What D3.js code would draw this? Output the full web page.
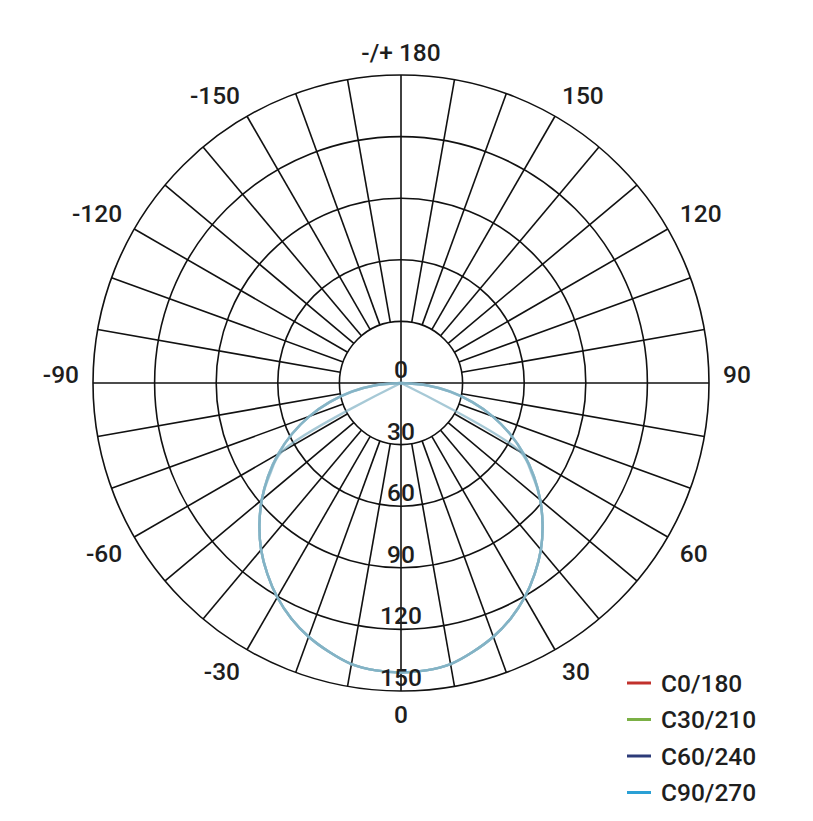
<!DOCTYPE html>
<html>
<head>
<meta charset="utf-8">
<script src="https://cdn.jsdelivr.net/npm/d3@7"></script>
<style>
  html, body { margin: 0; padding: 0; background: #fff; }
  #container svg { display: block; }
</style>
</head>
<body>
<div id="container"></div>
<script>
// gamma angles (degrees from nadir) at which the intensity was read
const gammaAngles = [0, 5, 10, 15, 20, 25, 30, 35, 40, 45, 50, 55, 60, 65, 70, 75, 80, 85, 90];

// intensity per C-plane (same on both halves of a plane)
const c0_180 = [141, 140.5, 139, 135.5, 131.5, 126.5, 120.5, 113.5, 106, 97.5, 88.5, 78, 67, 0, 0, 0, 0, 0, 0];
const c30_210 = [141, 140.5, 139, 135.5, 131.5, 126.5, 120.5, 113.5, 106, 97.5, 88.5, 79, 69, 58.5, 47.5, 36, 24.5, 12.5, 0];
const c60_240 = [141, 140.5, 139, 135.5, 131.5, 126.5, 120.5, 113.5, 106, 97.5, 88.5, 79, 69, 58.5, 47.5, 36, 24.5, 12.5, 0];
const c90_270 = [141, 140.5, 139, 135.5, 131.5, 126.5, 120.5, 113.5, 106, 97.5, 88.5, 79, 69, 58.5, 47.5, 36, 24, 12, 0];

const seriesNames = ["C0/180", "C30/210", "C60/240", "C90/270"];
const seriesValues = [c0_180, c30_210, c60_240, c90_270];
const seriesColors = ["#c1312c", "#7bb045", "#2c3b78", "#2aa0d5"];

// radial ticks (intensity) and angular ticks (degrees)
const ringTicks = [0, 30, 60, 90, 120, 150];
const angleTicks = [0, 30, 60, 90, 120, 150, 180, -150, -120, -90, -60, -30];
const angleTickLabels = ["0", "30", "60", "90", "120", "150", "-/+ 180", "-150", "-120", "-90", "-60", "-30"];

const width = 813;
const height = 821;
const cx = 401;
const cy = 383;
const outerRadius = 308;
const fontFamily = "Roboto, 'Noto Sans', sans-serif";
const fontSize = 24.5;
const fontWeight = 500;
const textColor = "#1e1e1e";

const svg = d3
  .select("#container")
  .append("svg")
  .attr("width", width)
  .attr("height", height)
  .attr("viewBox", [0, 0, width, height]);

const g = svg.append("g").attr("transform", `translate(${cx},${cy})`);

// intensity -> radius
const r = d3.scaleLinear().domain([0, 150]).range([0, outerRadius]);

// gamma (0 = down, positive to the right) -> screen offsets
const rad = (deg) => (deg * Math.PI) / 180;
const px = (deg, v) => r(v) * Math.sin(rad(deg));
const py = (deg, v) => r(v) * Math.cos(rad(deg));

/* grid */
const grid = g.append("g").attr("fill", "none").attr("stroke", "#111").attr("stroke-width", 1.6);

// concentric rings
grid
  .selectAll("circle")
  .data(ringTicks.filter((d) => d > 0))
  .join("circle")
  .attr("r", (d) => r(d));

// spokes every 10 degrees, starting from the first ring
grid
  .selectAll("line.spoke")
  .data(d3.range(10, 360, 10).filter((a) => a % 90 !== 0))
  .join("line")
  .attr("class", "spoke")
  .attr("x1", (a) => px(a, 30))
  .attr("y1", (a) => py(a, 30))
  .attr("x2", (a) => px(a, 150))
  .attr("y2", (a) => py(a, 150));

// the two axes run through the centre
grid
  .selectAll("line.axis")
  .data([0, 90])
  .join("line")
  .attr("class", "axis")
  .attr("x1", (a) => px(a, 150))
  .attr("y1", (a) => py(a, 150))
  .attr("x2", (a) => px(a + 180, 150))
  .attr("y2", (a) => py(a + 180, 150));

/* curves */
const line = d3
  .line()
  .x((d) => px(d[0], d[1]))
  .y((d) => py(d[0], d[1]))
  .curve(d3.curveCatmullRom.alpha(0.5));

// mirror each C-plane: left half (negative gamma) then right half
// repeated zero points are dropped so the spline stays well defined
const curvePoints = (values) => {
  const half = gammaAngles
    .map((a, i) => [a, values[i]])
    .filter((d, i) => !(values[i] === 0 && i > 0 && values[i - 1] === 0));
  const left = half.map(([a, v]) => [-a, v]).reverse();
  return left.concat(half.slice(1));
};

g.append("g")
  .attr("fill", "none")
  .selectAll("path")
  .data(seriesValues)
  .join("path")
  .attr("d", (d) => line(curvePoints(d)))
  .attr("stroke", "#82b2c4")
  .attr("stroke-opacity", 0.7)
  .attr("stroke-width", 2.4)
  .attr("stroke-linejoin", "round");

/* ring labels, sitting just above each ring on the lower axis */
g.append("g")
  .attr("font-family", fontFamily)
  .attr("font-size", fontSize)
  .attr("font-weight", fontWeight)
  .attr("fill", textColor)
  .attr("text-anchor", "middle")
  .selectAll("text")
  .data(ringTicks)
  .join("text")
  .attr("x", 0)
  .attr("y", (d) => r(d) - 5)
  .text((d) => d);

/* angle labels outside the outer ring */
const labelR = outerRadius + 14;
g.append("g")
  .attr("font-family", fontFamily)
  .attr("font-size", fontSize)
  .attr("font-weight", fontWeight)
  .attr("fill", textColor)
  .selectAll("text")
  .data(angleTicks)
  .join("text")
  .attr("x", (a) => labelR * Math.sin(rad(a)))
  .attr("y", (a) => labelR * Math.cos(rad(a)))
  .attr("text-anchor", (a) => {
    const s = Math.round(Math.sin(rad(a)) * 1000);
    return s > 0 ? "start" : s < 0 ? "end" : "middle";
  })
  // lower half hangs below the anchor point, upper half sits on it
  .attr("dy", (a) => (Math.round(Math.cos(rad(a)) * 1000) > 0 ? "0.72em" : 0))
  .text((a, i) => angleTickLabels[i]);

/* legend */
const legend = svg
  .append("g")
  .attr("font-family", fontFamily)
  .attr("font-size", fontSize)
  .attr("font-weight", fontWeight)
  .attr("fill", textColor)
  .selectAll("g")
  .data(seriesNames)
  .join("g")
  .attr("transform", (d, i) => `translate(627, ${683 + i * 36.5})`);

legend
  .append("line")
  .attr("x1", 0)
  .attr("x2", 24)
  .attr("stroke", (d, i) => seriesColors[i])
  .attr("stroke-width", 3);

legend
  .append("text")
  .attr("x", 34)
  .attr("dy", "0.36em")
  .text((d) => d);
</script>
</body>
</html>
